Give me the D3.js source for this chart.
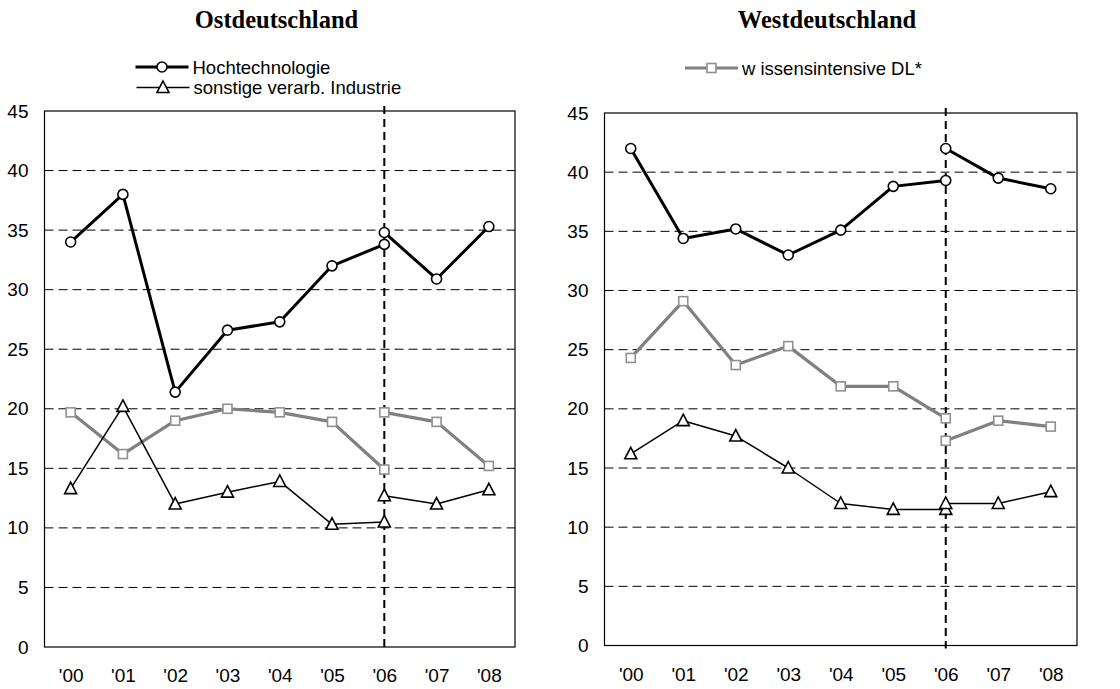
<!DOCTYPE html>
<html>
<head>
<meta charset="utf-8">
<script src="https://cdn.jsdelivr.net/npm/d3@7"></script>
<style>
  body { margin: 0; background: #fff; }
  svg { display: block; }
</style>
</head>
<body>
<svg id="chart" width="1120" height="689"></svg>
<script>
const YEARS = ["'00", "'01", "'02", "'03", "'04", "'05", "'06", "'07", "'08"];
const YEARS_OLD = YEARS.slice(0, 7);   // '00 - '06, alte Abgrenzung
const YEARS_NEW = YEARS.slice(6);      // '06 - '08, neue Abgrenzung
const Y_TICKS = [0, 5, 10, 15, 20, 25, 30, 35, 40, 45];

// Ostdeutschland
const ostHochOld = [34.0, 38.0, 21.4, 26.6, 27.3, 32.0, 33.8];
const ostHochNew = [34.8, 30.9, 35.3];
const ostDlOld = [19.7, 16.2, 19.0, 20.0, 19.7, 18.9, 14.9];
const ostDlNew = [19.7, 18.9, 15.2];
const ostSonstOld = [13.3, 20.2, 12.0, 13.0, 13.9, 10.3, 10.5];
const ostSonstNew = [12.7, 12.0, 13.2];

// Westdeutschland
const westHochOld = [42.0, 34.4, 35.2, 33.0, 35.1, 38.8, 39.3];
const westHochNew = [42.0, 39.5, 38.6];
const westDlOld = [24.3, 29.1, 23.7, 25.3, 21.9, 21.9, 19.2];
const westDlNew = [17.3, 19.0, 18.5];
const westSonstOld = [16.2, 19.0, 17.7, 15.0, 12.0, 11.5, 11.5];
const westSonstNew = [12.0, 12.0, 13.0];

const STYLES = {
  hoch: { color: '#000', width: 3, marker: 'circle' },
  dl: { color: '#808080', width: 3.2, marker: 'square' },
  sonst: { color: '#000', width: 1.5, marker: 'triangle' },
};

const svg = d3.select('#chart');

const drawMarker = (g, type, x, y) => {
  if (type === 'circle') {
    g.append('circle').attr('cx', x).attr('cy', y).attr('r', 5)
      .attr('fill', '#fff').attr('stroke', '#000').attr('stroke-width', 1.6);
  } else if (type === 'square') {
    g.append('rect').attr('x', x - 4.5).attr('y', y - 4.5).attr('width', 9).attr('height', 9)
      .attr('fill', '#fff').attr('stroke', '#909090').attr('stroke-width', 1.6);
  } else {
    g.append('path')
      .attr('d', `M${x},${y - 6.5}L${x + 6},${y + 5}L${x - 6},${y + 5}Z`)
      .attr('fill', '#fff').attr('stroke', '#000').attr('stroke-width', 1.6);
  }
};

const drawPanel = (opts) => {
  const { left, right, top, bottom, title, titleX, series, legend } = opts;
  const g = svg.append('g');

  const x = d3.scalePoint().domain(YEARS).range([left, right]).padding(0.5);
  const y = d3.scaleLinear().domain([0, 45]).range([bottom, top]);

  // title
  g.append('text')
    .attr('x', titleX).attr('y', 28)
    .attr('text-anchor', 'middle')
    .attr('style', 'font-family: "Liberation Serif", "Times New Roman", serif; font-weight: bold; font-size: 24.5px;')
    .text(title);

  // gridlines
  g.append('g').selectAll('line')
    .data(Y_TICKS.filter(d => d > 0 && d < 45))
    .join('line')
    .attr('x1', left).attr('x2', right)
    .attr('y1', d => y(d)).attr('y2', d => y(d))
    .attr('stroke', '#000').attr('stroke-width', 1)
    .attr('stroke-dasharray', '9,5');

  // frame
  g.append('rect')
    .attr('x', left).attr('y', top)
    .attr('width', right - left).attr('height', bottom - top)
    .attr('fill', 'none').attr('stroke', '#000').attr('stroke-width', 1.2);

  // break line at '06
  g.append('line')
    .attr('x1', x("'06")).attr('x2', x("'06"))
    .attr('y1', top - 5).attr('y2', bottom + 3)
    .attr('stroke', '#000').attr('stroke-width', 2)
    .attr('stroke-dasharray', '8,5');

  // y axis labels
  const yAxis = d3.axisLeft(y).tickValues(Y_TICKS).tickSize(0).tickPadding(16);
  g.append('g').attr('transform', `translate(${left},0)`).call(yAxis)
    .call(a => a.select('.domain').remove())
    .call(a => a.selectAll('text')
      .attr('style', 'font-family: "Liberation Sans", Arial, sans-serif; font-size: 19px; fill: #000;'));

  // x axis labels
  const xAxis = d3.axisBottom(x).tickSize(0).tickPadding(22);
  g.append('g').attr('transform', `translate(0,${bottom})`).call(xAxis)
    .call(a => a.select('.domain').remove())
    .call(a => a.selectAll('text')
      .attr('style', 'font-family: "Liberation Sans", Arial, sans-serif; font-size: 19px; fill: #000;'));

  // series
  const line = d3.line().x(d => x(d[0])).y(d => y(d[1]));
  series.forEach((s) => {
    const st = STYLES[s.key];
    [[YEARS_OLD, s.old], [YEARS_NEW, s.new]].forEach(([yrs, vals]) => {
      const pts = yrs.map((yr, i) => [yr, vals[i]]);
      g.append('path')
        .attr('d', line(pts))
        .attr('fill', 'none')
        .attr('stroke', st.color)
        .attr('stroke-width', st.width)
        .attr('stroke-linejoin', 'round');
      pts.forEach(p => drawMarker(g, st.marker, x(p[0]), y(p[1])));
    });
  });

  // legend
  legend.forEach((l) => {
    const st = STYLES[l.key];
    g.append('line')
      .attr('x1', l.x).attr('x2', l.x + 53)
      .attr('y1', l.y).attr('y2', l.y)
      .attr('stroke', st.color).attr('stroke-width', st.width);
    drawMarker(g, st.marker, l.x + 26.5, l.y);
    g.append('text')
      .attr('x', l.x + 57).attr('y', l.y + 6.5)
      .attr('style', 'font-family: "Liberation Sans", Arial, sans-serif; font-size: 18.5px;')
      .text(l.label);
  });
};

drawPanel({
  left: 44.5, right: 515, top: 111, bottom: 647,
  title: 'Ostdeutschland', titleX: 276.5,
  series: [
    { key: 'dl', old: ostDlOld, new: ostDlNew },
    { key: 'sonst', old: ostSonstOld, new: ostSonstNew },
    { key: 'hoch', old: ostHochOld, new: ostHochNew },
  ],
  legend: [
    { key: 'hoch', x: 135.5, y: 67, label: 'Hochtechnologie' },
    { key: 'sonst', x: 136.5, y: 87.5, label: 'sonstige verarb. Industrie' },
  ],
});

drawPanel({
  left: 604.5, right: 1077, top: 113, bottom: 645.5,
  title: 'Westdeutschland', titleX: 827,
  series: [
    { key: 'dl', old: westDlOld, new: westDlNew },
    { key: 'sonst', old: westSonstOld, new: westSonstNew },
    { key: 'hoch', old: westHochOld, new: westHochNew },
  ],
  legend: [
    { key: 'dl', x: 685, y: 68, label: 'w issensintensive DL*' },
  ],
});
</script>
</body>
</html>
